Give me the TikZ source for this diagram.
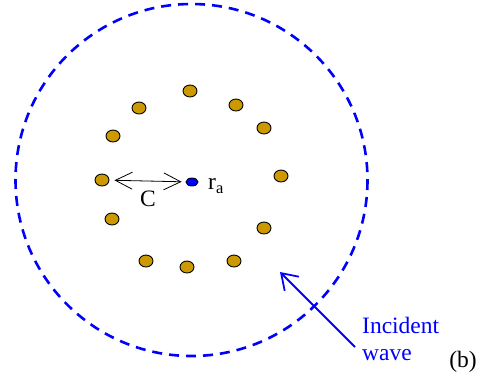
\documentclass[tikz,border=0pt]{standalone}
\usepackage{fontspec}
\setmainfont{Liberation Serif}
\usepackage{xcolor}
\usepackage{tikz}
\usetikzlibrary{arrows.meta,shapes.geometric}

\definecolor{dotgold}{RGB}{204,153,0}
\tikzset{
  scat/.style={draw=black,line width=0.9pt,fill=dotgold,ellipse,inner sep=0pt,
    minimum width=14pt,minimum height=12pt},
  probe/.style={draw=black,line width=0.9pt,fill=blue,ellipse,inner sep=0pt,
    minimum width=12pt,minimum height=8pt},
  lbl/.style={inner sep=0pt}
}

\begin{document}
\begin{tikzpicture}[x=1pt,y=-1pt,font=\fontsize{23.5}{27}\selectfont]
  \useasboundingbox (0,0) rectangle (480,376);
  % wave front
  \draw[blue,line width=2.6pt,dash pattern=on 10pt off 7pt] (191.5,180) circle (176);
  % scatterers round the probe point
  \foreach \px/\py [count=\i] in {190/91,236/105,264/128,281/176,264/228,234/261,
                                   187/267,146/261,112/219,102/180,113/136,139/108}
    {\node[scat] (d\i) at (\px,\py) {};}
  \node[probe] (ra) at (192,182) {};
  \node[lbl,anchor=west] (ralbl) at (208,186) {r\textsubscript{a}};
  \draw[{Straight Barb[length=17pt,width=17pt]}-{Straight Barb[length=17pt,width=17pt]},
        line width=0.8pt,shorten <=5pt,shorten >=4pt] (d10) -- (ra);
  \node[lbl] (clbl) at (148,199) {C};
  % incident wave
  \coordinate (tail) at (355,347);
  \coordinate (tip) at (280,272);
  \draw[blue,line width=1.8pt,-{Straight Barb[length=15pt,width=20pt]}] (tail) -- (tip);
  \node[lbl,blue,anchor=base west] (inc) at (362,333) {Incident};
  \node[lbl,blue,anchor=base west] (wav) at (362,360) {wave};
  \node[lbl,anchor=base] (tag) at (463,367) {(b)};
\end{tikzpicture}
\end{document}
